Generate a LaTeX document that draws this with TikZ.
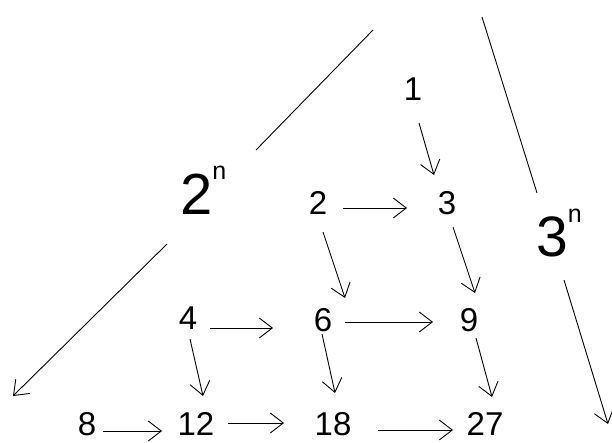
\documentclass[tikz,border=0pt]{standalone}
\usepackage{fontspec}
\setmainfont{Liberation Sans}
\usetikzlibrary{arrows.meta}

\begin{document}
\begin{tikzpicture}[x=1pt,y=-1pt,
  num/.style={font=\fontsize{33}{33}\selectfont, inner sep=0pt},
  pow/.style={inner sep=0pt, anchor=base west},
  arr/.style={line width=0.9pt, -{Straight Barb[length=13pt,width=20pt]}},
  ray/.style={line width=0.9pt}]
\useasboundingbox (0,0) rectangle (612,443);
% numbers, row by row
\node[num] (n1) at (413,89) {1};
\node[num] (n2) at (318,203) {2};
\node[num] (n3) at (447,203) {3};
\node[num] (n4) at (188,318) {4};
\node[num] (n6) at (323,320) {6};
\node[num] (n9) at (469,320) {9};
\node[num] (n8) at (87,424) {8};
\node[num] (n12) at (196,424) {12};
\node[num] (n18) at (333,424) {18};
\node[num] (n27) at (485,424) {27};
% powers
\node[pow] (pow2) at (180,215) {{\fontsize{58}{58}\selectfont 2}\raisebox{35pt}{\fontsize{25}{25}\selectfont n}};
\node[pow] (pow3) at (536,257) {{\fontsize{57}{57}\selectfont 3}\raisebox{34pt}{\fontsize{25}{25}\selectfont n}};
% times 3
\draw[arr] ([shift={(6,34)}]n1.center) -- ([shift={(-13,-28)}]n3.center);
\draw[arr] ([shift={(5,29)}]n2.center) -- ([shift={(22,-22)}]n6.center);
\draw[arr] ([shift={(6,24)}]n3.center) -- ([shift={(6,-27)}]n9.center);
\draw[arr] ([shift={(2,21)}]n4.center) -- ([shift={(7,-28)}]n12.center);
\draw[arr] ([shift={(-1,14)}]n6.center) -- ([shift={(2,-31)}]n18.center);
\draw[arr] ([shift={(7,18)}]n9.center) -- ([shift={(7,-27)}]n27.center);
% times 2
\draw[arr] ([shift={(25,5)}]n2.center) -- ([shift={(-40,5)}]n3.center);
\draw[arr] ([shift={(22,10)}]n4.center) -- ([shift={(-50,8)}]n6.center);
\draw[arr] ([shift={(22,2)}]n6.center) -- ([shift={(-36,2)}]n9.center);
\draw[arr] ([shift={(16,7)}]n8.center) -- ([shift={(-34,7)}]n12.center);
\draw[arr] ([shift={(32,-1)}]n12.center) -- ([shift={(-49,-1)}]n18.center);
\draw[arr] ([shift={(45,6)}]n18.center) -- ([shift={(-32,6)}]n27.center);
% long rays
\coordinate (twoA) at (373,30);
\coordinate (twoB) at (256,150);
\coordinate (twoC) at (167,244);
\coordinate (twoD) at (13,396);
\draw[ray] (twoA) -- (twoB);
\draw[arr] (twoC) -- (twoD);
\coordinate (threeA) at (482,17);
\coordinate (threeB) at (537,193);
\coordinate (threeC) at (564,280);
\coordinate (threeD) at (608,424);
\draw[ray] (threeA) -- (threeB);
\draw[arr] (threeC) -- (threeD);
\end{tikzpicture}
\end{document}
